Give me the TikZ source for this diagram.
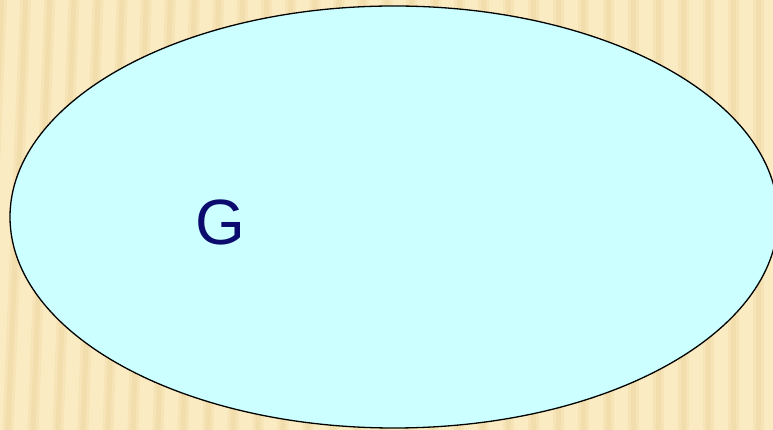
\documentclass[tikz,border=0pt]{standalone}
\usepackage{fontspec}
\setmainfont{Liberation Sans}
\definecolor{bgcream}{HTML}{FBEBC3}
\definecolor{stripe}{HTML}{ECD49C}
\definecolor{fillcyan}{HTML}{CCFFFF}
\definecolor{navy}{HTML}{0B0B6E}
\tikzset{
  stripeline/.style={draw=stripe, line width=11pt, opacity=0.3},
  stripecore/.style={draw=stripe, line width=5pt, opacity=0.4},
  setellipse/.style={ellipse, draw=black, line width=1.3pt, fill=fillcyan, minimum width=768pt, minimum height=422pt, inner sep=0pt},
  letter/.style={text=navy, font=\fontsize{64}{64}\selectfont}
}
\usetikzlibrary{shapes.geometric}
\begin{document}
\begin{tikzpicture}[x=1pt,y=1pt]
\useasboundingbox (0,0) rectangle (773,430);
\fill[bgcream] (0,0) rectangle (773,430);
\begin{scope}
\clip (0,0) rectangle (773,430);
\foreach \i in {-1,...,32} {
  \pgfmathsetmacro{\xb}{\i*25+8}
  \pgfmathsetmacro{\tilt}{max(0,18*(1-\xb/500))}
  \draw[stripeline] (\xb,0) -- (\xb+\tilt,430);
  \draw[stripecore] (\xb,0) -- (\xb+\tilt,430);
}
\end{scope}
\node[setellipse] (G) at (394,213) {};
\node[letter] (glabel) at (220,208) {G};
\end{tikzpicture}
\end{document}
